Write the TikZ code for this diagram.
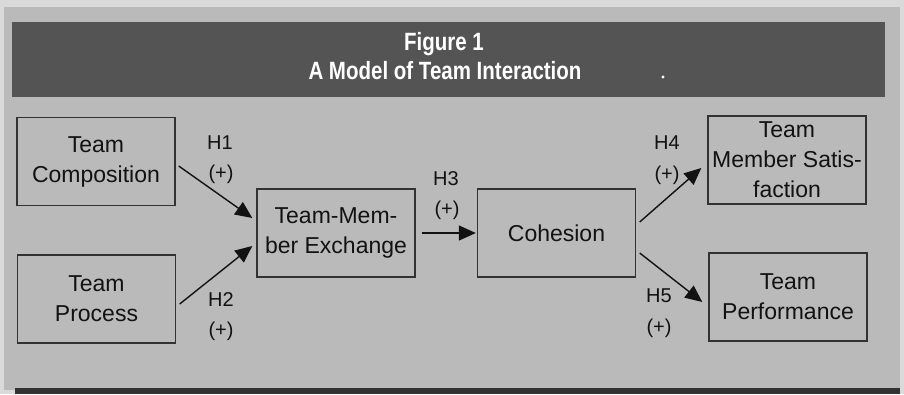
\documentclass[tikz,border=0pt]{standalone}
\usepackage{fontspec}
\setmainfont{Liberation Sans}
\newfontfamily\ttlfont[FakeStretch=0.82]{Liberation Sans}
\usetikzlibrary{arrows.meta,calc}
\definecolor{panel}{RGB}{186,186,186}
\definecolor{outer}{RGB}{218,218,218}
\definecolor{band}{RGB}{84,84,84}
\definecolor{ink}{RGB}{18,18,18}
\definecolor{edge}{RGB}{50,50,50}
\begin{document}
\begin{tikzpicture}[x=1pt,y=-1pt,
  box/.style={draw=edge,line width=1.4pt,minimum width=158pt,minimum height=88pt,inner sep=0pt,align=center,
    font=\fontsize{23}{30}\selectfont,text=ink},
  lbl/.style={font=\fontsize{20}{24}\selectfont,text=ink,inner sep=0pt},
  link/.style={draw=ink,line width=1.4pt,-{Triangle[length=17pt,width=15pt]}},
  ttl/.style={font=\ttlfont\fontsize{25}{30}\selectfont\bfseries,text=white,inner sep=0pt,anchor=base}]
\useasboundingbox (0,0) rectangle (904,394);
\fill[outer] (0,0) rectangle (904,394);
\fill[panel] (4,7) rectangle (900,390);
\fill[edge] (15,388) rectangle (900,394);
\fill[band] (12,22) rectangle (885,97);
\node[ttl] (fig) at (444,50) {Figure 1};
\node[ttl] (title) at (445,79) {A Model of Team Interaction};
\fill[white] (663,77) circle (1.6pt);
\node[box] (tc) at (96,161.5) {Team\\Composition};
\node[box] (tp) at (96.5,299) {Team\\Process};
\node[box] (tme) at (336,233) {Team-Mem-\\ber Exchange};
\node[box] (coh) at (556.5,233) {Cohesion};
\node[box] (tms) at (787,160) {Team\\Member Satis-\\faction};
\node[box] (tperf) at (788,297) {Team\\Performance};
\draw[link] ($(tc.east)+(3,4.5)$) -- ($(tme.west)+(-4,-15)$);
\draw[link] ($(tp.east)+(3.5,5)$) -- ($(tme.west)+(-4,13)$);
\draw[link] ($(tme.east)+(6,0)$) -- ($(coh.west)+(-1,0)$);
\draw[link] ($(coh.east)+(3.5,-11)$) -- ($(tms.west)+(-6,8)$);
\draw[link] ($(coh.east)+(3.5,20)$) -- ($(tperf.west)+(-6,5)$);
\node[lbl] (h1) at (220,143) {H1};
\node[lbl] (p1) at (221,174) {(+)};
\node[lbl] (h2) at (221,300) {H2};
\node[lbl] (p2) at (221,331) {(+)};
\node[lbl] (h3) at (446,179) {H3};
\node[lbl] (p3) at (447,210) {(+)};
\node[lbl] (h4) at (667,143) {H4};
\node[lbl] (p4) at (667,175) {(+)};
\node[lbl] (h5) at (659,296) {H5};
\node[lbl] (p5) at (659,328) {(+)};
\end{tikzpicture}
\end{document}
